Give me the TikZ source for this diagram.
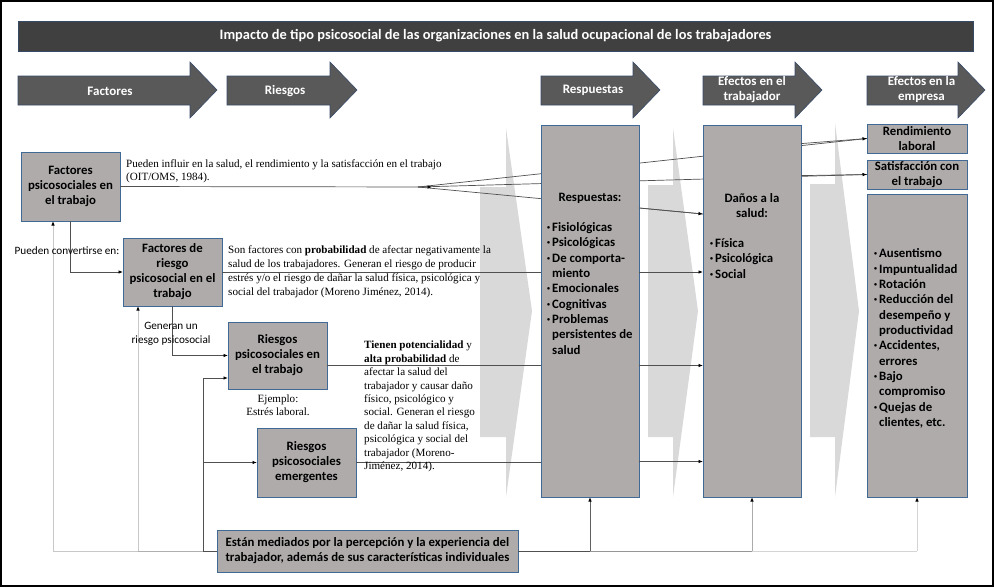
\documentclass[tikz,border=0pt]{standalone}
\usepackage{fontspec}
\setmainfont{Liberation Serif}
\newfontfamily\carl{Carlito}
\usetikzlibrary{arrows.meta}
\definecolor{boxfill}{RGB}{175,171,171}
\definecolor{boxline}{RGB}{65,105,150}
\definecolor{hdrfill}{RGB}{89,89,89}
\definecolor{hdrline}{RGB}{55,75,105}
\definecolor{titlefill}{RGB}{64,64,64}
\definecolor{chev}{RGB}{217,217,217}
\definecolor{connc}{RGB}{80,80,80}
\definecolor{lg1}{RGB}{200,200,200}
\definecolor{lg2}{RGB}{175,175,175}
\definecolor{mg}{RGB}{150,150,150}
\definecolor{lg3}{RGB}{212,212,212}
\newcommand\hdrarrow[3]{%
  \fill[hdrfill,draw=hdrline,line width=0.6pt] (#1,76)--(#2,76)--(#2,62)--(#3,90)--(#2,118)--(#2,105)--(#1,105)--cycle;}
\newcommand\chevshape[5]{%
  \fill[chev] (#1,#4)--(#2,#4)--(#2,#5)--(#3,311)--(#2,497)--(#2,437)--(#1,437)--cycle;}
\newcommand\bul{\makebox[5pt][l]{\raisebox{2.2pt}{\fontsize{6}{6}\selectfont\textbullet}}}
\newcommand\nobul{\hspace*{5pt}}
\begin{document}
\begin{tikzpicture}[x=1pt,y=-1pt,
  box/.style={draw=boxline, fill=boxfill, line width=0.8pt, inner sep=0pt, outer sep=0pt, align=center, font=\carl\bfseries\fontsize{12.8}{15}\selectfont},
  boxtext/.style={inner sep=0pt, align=center, font=\carl\bfseries\fontsize{12.8}{15.3}\selectfont},
  listtext/.style={inner sep=0pt, align=left, anchor=west, font=\carl\bfseries\fontsize{12.8}{15.35}\selectfont},
  hdrtext/.style={text=white, inner sep=0pt, font=\carl\bfseries\fontsize{13}{15}\selectfont, align=center},
  sertext/.style={font=\fontsize{11.1}{13.6}\selectfont, align=left, inner sep=0pt, anchor=west},
  sanstext/.style={font=\carl\fontsize{11.2}{14}\selectfont, align=center, inner sep=0pt},
  conn/.style={draw=connc, line width=0.7pt},
  arr/.style={-{Latex[length=4.5pt,width=3.5pt,color=black]}},
]
\useasboundingbox (0,0) rectangle (994,587);
\draw[line width=1.6pt] (0.8,0.8) rectangle (993.2,586.2);

% title
\node[draw=hdrline, fill=titlefill, line width=0.6pt, minimum width=955pt, minimum height=30pt, inner sep=0pt, text=white, font=\carl\bfseries\fontsize{14.4}{16}\selectfont] (title) at (495.5,36) {Impacto de tipo psicosocial de las organizaciones en la salud ocupacional de los trabajadores};

% header arrows
\hdrarrow{18}{190}{217}
\hdrarrow{227}{330}{357}
\hdrarrow{541}{633}{660}
\hdrarrow{703}{795}{822}
\hdrarrow{867}{958}{985}
\node[hdrtext] (h1) at (110,91) {Factores};
\node[hdrtext] (h2) at (285,91) {Riesgos};
\node[hdrtext] (h3) at (593,90) {Respuestas};
\node[hdrtext] (h4) at (752,89.5) {Efectos en el\\trabajador};
\node[hdrtext] (h5) at (921.5,89.5) {Efectos en la\\empresa};

% background chevrons
\chevshape{480}{506}{532}{187}{128}
\chevshape{648}{673}{698}{185}{128}
\chevshape{810}{835}{859}{184}{123}

\coordinate (fanA) at (418,187);
\coordinate (fanT) at (432,187);
\coordinate (danA) at (703,214);

% fan lines drawn behind boxes
\draw[conn] (fanA) -- (867,138.5);
\draw[conn] (fanA) -- (867,174.5);
\draw[conn] (fanA) -- (danA);

% boxes
\node[box, minimum width=99pt, minimum height=69pt] (f1) at (70.5,186.5) {Factores\\psicosociales en\\el trabajo};
\node[box, minimum width=99pt, minimum height=68pt] (f2) at (172.5,272) {Factores de\\riesgo\\psicosocial en el\\trabajo};
\node[box, minimum width=99pt, minimum height=67pt] (r1) at (277.5,355.5) {Riesgos\\psicosociales en\\el trabajo};
\node[box, minimum width=99pt, minimum height=69pt] (r2) at (306.5,462.5) {Riesgos\\psicosociales\\emergentes};
\node[box, minimum width=98pt, minimum height=372pt] (resp) at (590,311) {};
\node[box, minimum width=98pt, minimum height=372pt] (dan) at (752,311) {};
\node[box, minimum width=100pt, minimum height=29pt] (rend) at (917,138.5) {Rendimiento\\laboral};
\node[box, minimum width=100pt, minimum height=29pt] (sat) at (917,174.5) {Satisfacción con\\el trabajo};
\node[box, minimum width=100pt, minimum height=303pt] (emp) at (917,345.5) {};
\node[box, minimum width=301pt, minimum height=42pt] (med) at (367.5,551) {Están mediados por la percepción y la experiencia del\\trabajador, además de sus características individuales};

% arrows to right boxes (visible parts)
\draw[conn,arr] (dan.east |- 0,143.6) -- (rend.west);
\draw[conn,arr] (dan.east |- 0,175.6) -- (sat.west);
\draw[conn,arr] (resp.east |- 0,208) -- (danA);
\draw[conn,arr] (f1.east) -- (fanT);

% box2, r1, r2 lines to Daños
\draw[conn] (f2.east) -- (f2.east -| resp.west);
\draw[conn,arr] (f2.east -| resp.east) -- (f2.east -| dan.west);
\draw[conn] ([yshift=-10pt]r1.east) -- ([yshift=-10pt]r1.east -| resp.west);
\draw[conn,arr] ([yshift=-10pt]r1.east -| resp.east) -- ([yshift=-10pt]r1.east -| dan.west);
\draw[conn] (r2.east) -- (r2.east -| resp.west);
\draw[conn,arr] ([yshift=1pt]r2.east -| resp.east) -- ([yshift=1pt]r2.east -| dan.west);

% chain on the left
\draw[conn,arr] (f1.south) |- (f2.west);
\draw[conn,arr] (f2.south) |- (r1.west);

% bottom feedback lines (left)
\draw[lg1, line width=1pt] (53,551) -- (138,551);
\draw[lg2, line width=1pt] (138,551) -- (203,551);
\draw[connc, line width=0.8pt] (203,551) -- (med.west);
\draw[lg1, line width=1pt,arr] (53,551) -- ([xshift=-17.5pt]f1.south);
\draw[lg1, line width=1pt,arr] (138,551) -- ([xshift=-34.5pt]f2.south);
\draw[connc, line width=0.8pt,arr] (203,551) |- ([yshift=-22.5pt]r1.west);
\draw[connc, line width=0.8pt,arr] (203,551) |- (r2.west);

% bottom feedback lines (right)
\draw[connc, line width=0.9pt] (med.east) -- (resp.south |- med.east);
\draw[mg, line width=1pt] (resp.south |- med.east) -- (dan.south |- med.east);
\draw[lg3, line width=1pt] (dan.south |- med.east) -- (emp.south |- med.east);
\draw[connc!90, line width=0.9pt,arr] (resp.south |- med.east) -- (resp.south);
\draw[mg!80, line width=1pt,arr] (dan.south |- med.east) -- (dan.south);
\draw[lg3, line width=1pt,arr] (emp.south |- med.east) -- (emp.south);

% texts inside big boxes
\node[boxtext] (resph) at (590,198) {Respuestas:};
\node[listtext] (respl) at (547,288.5) {\bul Fisiológicas\\\bul Psicológicas\\\bul De comporta-\\\nobul miento\\\bul Emocionales\\\bul Cognitivas\\\bul Problemas\\\nobul persistentes de\\\nobul salud};
\node[boxtext] (danh) at (752,205.5) {Daños a la\\salud:};
\node[listtext] (danl) at (710,258.5) {\bul Física\\\bul Psicológica\\\bul Social};
\node[listtext] (empl) at (874,338.5) {\bul Ausentismo\\\bul Impuntualidad\\\bul Rotación\\\bul Reducción del\\\nobul desempeño y\\\nobul productividad\\\bul Accidentes,\\\nobul errores\\\bul Bajo\\\nobul compromiso\\\bul Quejas de\\\nobul clientes, etc.};

% annotation texts
\node[sertext, font=\fontsize{11.1}{13}\selectfont] (t1) at (126,171.5) {Pueden influir en la salud, el rendimiento y la satisfacción en el trabajo\\(OIT/OMS, 1984).};
\node[sertext, font=\fontsize{11.1}{13.7}\selectfont] (t2) at (228,271.8) {Son factores con \textbf{probabilidad} de afectar negativamente la\\salud de los trabajadores. Generan el riesgo de producir\\estrés y/o el riesgo de dañar la salud física, psicológica y\\social del trabajador (Moreno Jiménez, 2014).};
\node[sertext, font=\fontsize{11.1}{13.44}\selectfont] (t3) at (364,406.5) {\textbf{Tienen potencialidad} y\\\textbf{alta probabilidad} de\\afectar la salud del\\trabajador y causar daño\\físico, psicológico y\\social. Generan el riesgo\\de dañar la salud física,\\psicológica y social del\\trabajador (Moreno-\\Jiménez, 2014).};
\node[sertext, align=center, anchor=center, font=\fontsize{11.1}{13.4}\selectfont] (ej) at (278,405.5) {Ejemplo:\\Estrés laboral.};
\node[sanstext] (gen) at (171,334) {Generan un\\riesgo psicosocial};
\node[sanstext] (pc) at (67,251) {Pueden convertirse en:};
\end{tikzpicture}
\end{document}
